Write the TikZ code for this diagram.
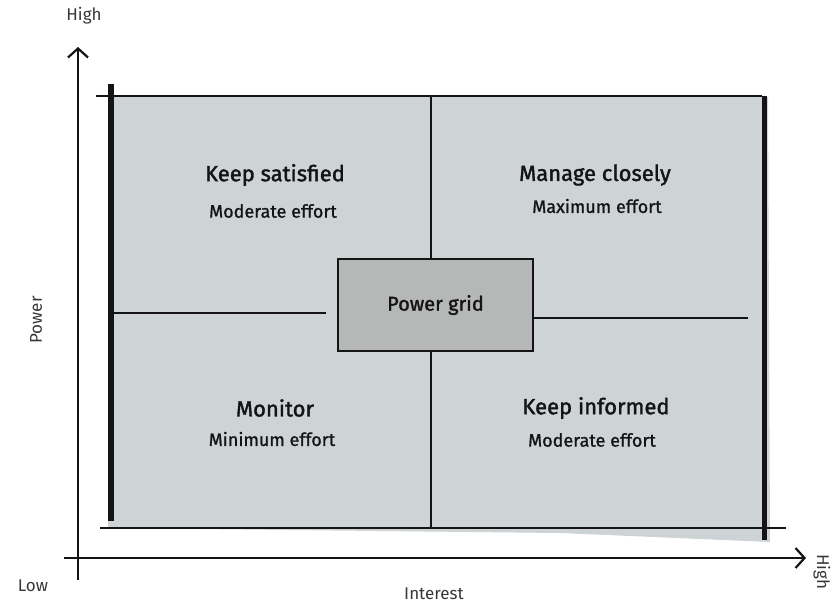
\documentclass[tikz,border=0pt]{standalone}
\usepackage{fontspec}
\setmainfont{Fira Sans}
\newfontfamily\handfont{Fira Sans}[FakeBold=1.6]
\newfontfamily\subfont{Fira Sans}[FakeBold=1.0]
\usetikzlibrary{arrows.meta}
\definecolor{paper}{RGB}{206,211,213}
\definecolor{gridbox}{RGB}{182,184,184}
\definecolor{ink}{RGB}{20,20,20}
\definecolor{axink}{RGB}{55,55,55}
\tikzset{
  axis/.style={line width=2.4pt, draw=ink, -{Straight Barb[length=9pt,width=20pt,line width=2.2pt]}},
  frame/.style={line width=2.8pt, draw=ink},
  thick frame/.style={line width=6pt, draw=ink},
  divider/.style={line width=2pt, draw=ink},
  title/.style={font=\handfont\fontsize{22}{25}\selectfont, text=ink},
  sub/.style={font=\subfont\fontsize{18}{21}\selectfont, text=ink},
  axlabel/.style={font=\fontsize{17}{19}\selectfont, text=axink},
}
\begin{document}
\begin{tikzpicture}[x=1pt,y=-1pt]
\useasboundingbox (0,0) rectangle (833,605);
% grey paper
\fill[paper] (108,97) -- (768,97) -- (770,542) -- (560,533) -- (108,528) -- cycle;
% frame
\coordinate (tl) at (96,96);
\coordinate (tr) at (762,96);
\coordinate (bl) at (100,528);
\coordinate (br) at (786,528);
\draw[frame] (tl) -- (tr);
\draw[frame] (bl) -- (br);
\coordinate (lt) at (111,84);
\coordinate (lb) at (111,521);
\coordinate (rt) at (764,96);
\coordinate (rb) at (764,540);
\draw[thick frame] (lt) -- (lb);
\draw[line width=5pt, draw=ink] (rt) -- (rb);
% power grid box
\node[draw=ink, line width=2.2pt, fill=gridbox, minimum width=195pt, minimum height=92pt, inner sep=0pt, font=\handfont\fontsize{20}{23}\selectfont, text=ink] (grid) at (435.5,305) {Power grid};
% dividers
\coordinate (mt) at (431,97);
\coordinate (mb) at (431,528);
\coordinate (ml) at (113,313);
\coordinate (mlend) at (326,313);
\coordinate (mr) at (748,318);
\draw[divider] (mt) -- (mt |- grid.north);
\draw[divider] (grid.south -| mb) -- (mb);
\draw[divider] (ml) -- (mlend);
\draw[divider] (grid.east |- mr) -- (mr);
% quadrant labels
\node[title] (ks) at (275,175) {Keep satisfied};
\node[sub] (ksd) at (273,211) {Moderate effort};
\node[title] (mc) at (595,175) {Manage closely};
\node[sub] (mcd) at (597,206) {Maximum effort};
\node[title] (mo) at (275,408) {Monitor};
\node[sub] (mod) at (272,439) {Minimum effort};
\node[title] (ki) at (596,408) {Keep informed};
\node[sub] (kid) at (592,440) {Moderate effort};
% axes
\coordinate (yb) at (78,580);
\coordinate (yt) at (78,47);
\coordinate (xl) at (64,558);
\coordinate (xr) at (806,558);
\draw[axis] (yb) -- (yt);
\draw[axis] (xl) -- (xr);
% axis labels
\node[axlabel] (yh) at (84,16) {High};
\node[axlabel] (xlow) at (33,586) {Low};
\node[axlabel] (xint) at (434,594) {Interest};
\node[axlabel, rotate=-90] (xh) at (822,572) {High};
\node[axlabel, rotate=90] (yp) at (36,320) {Power};
\end{tikzpicture}
\end{document}
